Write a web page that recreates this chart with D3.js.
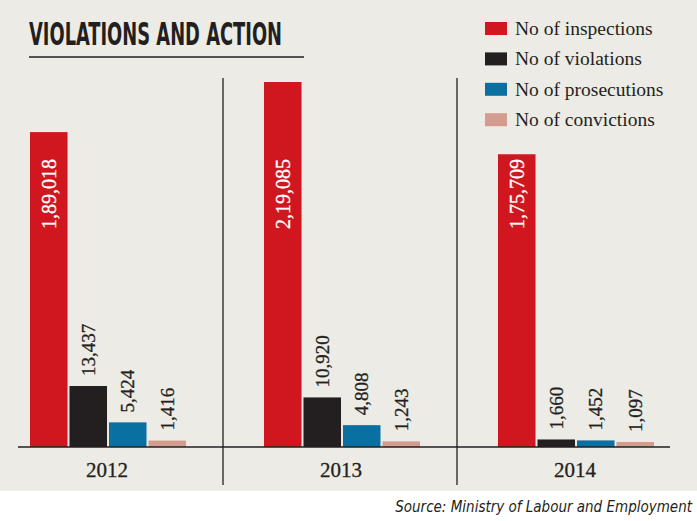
<!DOCTYPE html>
<html><head><meta charset="utf-8">
<script src="https://cdn.jsdelivr.net/npm/d3@7"></script>
<style>
html,body{margin:0;padding:0;background:#fff;}
svg{display:block;}
</style></head>
<body>
<script>
const years = ["2012", "2013", "2014"];
const seriesNames = ["No of inspections", "No of violations", "No of prosecutions", "No of convictions"];
const inspections = [189018, 219085, 175709];
const violations = [13437, 10920, 1660];
const prosecutions = [5424, 4808, 1452];
const convictions = [1416, 1243, 1097];
const inspectionLabels = ["1,89,018", "2,19,085", "1,75,709"];
const violationLabels = ["13,437", "10,920", "1,660"];
const prosecutionLabels = ["5,424", "4,808", "1,452"];
const convictionLabels = ["1,416", "1,243", "1,097"];
const colors = ["#d0171f", "#231f20", "#0a6fa1", "#d29d8e"];

const W = 697, H = 521;
const svg = d3.select("body").append("svg").attr("width", W).attr("height", H);

svg.append("rect").attr("x", 0).attr("y", 0).attr("width", W).attr("height", 491).attr("fill", "#edebe5");

// title
svg.append("text").attr("x", 29).attr("y", 45)
  .attr("font-family", "'DejaVu Sans Condensed','DejaVu Sans',sans-serif")
  .attr("font-weight", 700).attr("font-size", 32)
  .attr("textLength", 253).attr("lengthAdjust", "spacingAndGlyphs")
  .attr("fill", "#231f20").text("VIOLATIONS AND ACTION");
svg.append("line").attr("x1", 29).attr("x2", 304).attr("y1", 57).attr("y2", 57)
  .attr("stroke", "#231f20").attr("stroke-width", 1.5);

// scales
const baseY = 447;
const x0 = d3.scaleBand().domain(years).range([-11, 691]).padding(0);
const x1 = d3.scaleBand().domain(seriesNames).range([41, 197]).paddingInner(0.05).paddingOuter(0);
const yBig = d3.scaleLinear().domain([0, 219085]).range([baseY, 82]);
const ySmall = d3.scaleLinear().domain([0, 13437]).range([baseY, 386]);

const rows = years.map((y, i) => ({
  year: y,
  vals: [
    {s: seriesNames[0], v: inspections[i], lab: inspectionLabels[i], big: true},
    {s: seriesNames[1], v: violations[i], lab: violationLabels[i], big: false},
    {s: seriesNames[2], v: prosecutions[i], lab: prosecutionLabels[i], big: false},
    {s: seriesNames[3], v: convictions[i], lab: convictionLabels[i], big: false}
  ]
}));

// dividers
years.slice(1).forEach(y => {
  svg.append("line").attr("x1", x0(y)).attr("x2", x0(y)).attr("y1", 78).attr("y2", 485)
    .attr("stroke", "#231f20").attr("stroke-width", 1.3);
});

const g = svg.selectAll("g.year").data(rows).enter().append("g")
  .attr("class", "year").attr("transform", d => `translate(${x0(d.year)},0)`);

g.selectAll("rect").data(d => d.vals).enter().append("rect")
  .attr("x", d => x1(d.s)).attr("width", x1.bandwidth())
  .attr("y", d => d.big ? yBig(d.v) : ySmall(d.v))
  .attr("height", d => baseY - (d.big ? yBig(d.v) : ySmall(d.v)))
  .attr("fill", (d, i) => colors[i]);

g.selectAll("text.val").data(d => d.vals).enter().append("text")
  .attr("class", "val")
  .attr("transform", d => {
    const cx = x1(d.s) + x1.bandwidth() / 2;
    if (d.big) return `translate(${cx + 7},229) rotate(-90)`;
    return `translate(${cx + 6.5},${ySmall(d.v) - 10}) rotate(-90)`;
  })
  .attr("font-family", "'Liberation Serif','DejaVu Serif',serif")
  .attr("font-size", d => d.big ? 20 : 19)
  .attr("fill", d => d.big ? "#ffffff" : "#231f20")
  .attr("stroke", d => d.big ? "#ffffff" : "#231f20")
  .attr("stroke-width", 0.3)
  .attr("text-anchor", "start")
  .text(d => d.lab);

// baseline
svg.append("line").attr("x1", 18).attr("x2", 670).attr("y1", baseY).attr("y2", baseY)
  .attr("stroke", "#231f20").attr("stroke-width", 1.3);

// year labels
g.append("text").attr("x", x1.range()[0] + (x1.range()[1] - x1.range()[0]) / 2 - 1).attr("y", 477)
  .attr("text-anchor", "middle")
  .attr("font-family", "'Liberation Serif','DejaVu Serif',serif")
  .attr("font-size", 21).attr("fill", "#231f20")
  .attr("stroke", "#231f20").attr("stroke-width", 0.3).text(d => d.year);

// legend
const leg = svg.selectAll("g.leg").data(seriesNames).enter().append("g")
  .attr("class", "leg").attr("transform", (d, i) => `translate(485,${22 + i * 30.4})`);
leg.append("rect").attr("width", 22).attr("height", 13).attr("fill", (d, i) => colors[i]);
leg.append("text").attr("x", 30).attr("y", 13)
  .attr("font-family", "'Liberation Serif','DejaVu Serif',serif")
  .attr("font-size", 19.5).attr("fill", "#231f20").text(d => d);

// source
svg.append("text").attr("x", 692).attr("y", 512).attr("text-anchor", "end")
  .attr("font-family", "'DejaVu Sans Condensed',sans-serif")
  .attr("font-style", "italic").attr("font-size", 15)
  .attr("fill", "#231f20").text("Source: Ministry of Labour and Employment");
</script>
</body></html>
